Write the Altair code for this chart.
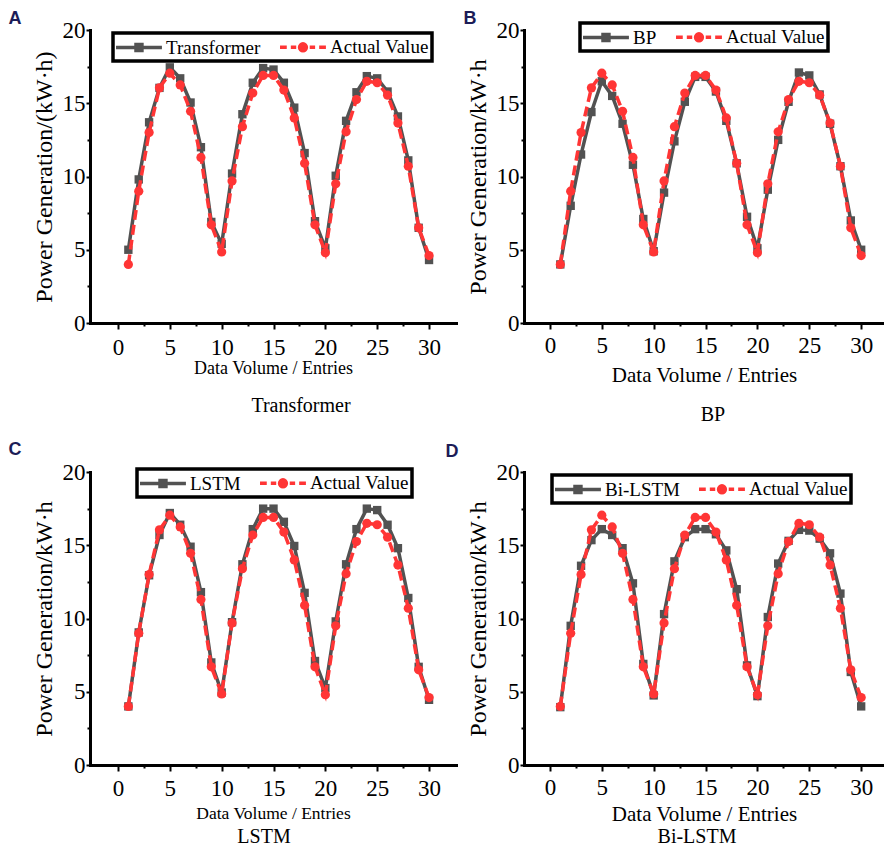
import altair as alt
import pandas as pd

# ---------------- data ----------------
entries = list(range(1, 31))

actual = [4.0, 9.0, 13.0, 16.05, 17.05, 16.25, 14.45, 11.3, 6.7, 4.85,
          9.7, 13.4, 15.7, 16.9, 16.9, 15.9, 14.0, 10.9, 6.7, 4.8,
          9.5, 13.05, 15.25, 16.5, 16.4, 15.55, 13.65, 10.7, 6.5, 4.6]

transformer = [5.0, 9.8, 13.7, 16.05, 17.45, 16.7, 15.05, 12.0, 6.9, 5.4,
               10.2, 14.25, 16.4, 17.4, 17.3, 16.4, 14.7, 11.6, 6.95, 5.1,
               10.05, 13.8, 15.75, 16.85, 16.7, 15.8, 14.1, 11.1, 6.5, 4.3]

bp = [4.0, 8.0, 11.5, 14.4, 16.5, 15.5, 13.6, 10.8, 7.1, 4.9,
      8.9, 12.4, 15.1, 16.8, 16.8, 15.8, 13.8, 10.9, 7.25, 5.1,
      9.1, 12.5, 15.1, 17.1, 16.9, 15.6, 13.6, 10.7, 7.0, 5.0]

lstm = [4.0, 9.05, 12.95, 15.7, 17.2, 16.4, 14.9, 11.8, 7.0, 4.95,
        9.75, 13.7, 16.1, 17.5, 17.5, 16.6, 14.95, 11.75, 7.1, 5.25,
        9.8, 13.7, 16.1, 17.5, 17.4, 16.4, 14.8, 11.4, 6.7, 4.45]

bilstm = [3.95, 9.5, 13.6, 15.35, 16.1, 15.7, 14.8, 12.4, 6.9, 4.75,
          10.3, 13.9, 15.55, 16.1, 16.1, 15.75, 14.65, 12.0, 6.8, 4.7,
          10.1, 13.75, 15.3, 16.05, 16.0, 15.45, 14.45, 11.7, 6.35, 4.0]

actual_label = "Actual Value"
x_title = "Data Volume / Entries"
x_major = [0, 5, 10, 15, 20, 25, 30]
x_minor = [2.5, 7.5, 12.5, 17.5, 22.5, 27.5]
y_major = [0, 5, 10, 15, 20]
y_minor = [2.5, 7.5, 12.5, 17.5]

# ---------------- style ----------------
GRAY = "#525252"
RED = "#ff3535"
NAVY = "#1c1c57"
SERIF = "Liberation Serif"
SANS = "Liberation Sans"

# legend symbols: line + marker as custom paths (9 px per path unit),
# shifted right so that the whole symbol stays inside the legend box
SQUARE_SYMBOL = "M-1.22,0H3.88M1.0,-0.33H1.66V0.33H1.0Z"
CIRCLE_SYMBOL = ("M-1.22,0H-0.47M-0.02,0H0.58M2.08,0H2.68M3.13,0H3.88"
                 "M1.71,0A0.38,0.38,0,1,1,0.95,0A0.38,0.38,0,1,1,1.71,0Z")


def panel(name, values, letter, ytitle, width, height, xdom, letter_xy,
          legend_xy, xlp, xtfs, xtp, cap_off, cap_dx):
    df_model = pd.DataFrame({"entry": entries, "power": values, "series": name})
    df_actual = pd.DataFrame({"entry": entries, "power": actual, "series": actual_label})
    df_all = pd.concat([df_model, df_actual], ignore_index=True)

    xs = alt.Scale(domain=xdom, nice=False, zero=False)
    ys = alt.Scale(domain=[0, 20], nice=False, zero=True)

    x_axis = alt.Axis(values=x_major, orient="bottom", title=x_title,
                      titleFont=SERIF, titleFontSize=xtfs, titleFontWeight="normal",
                      titleColor="black", titlePadding=xtp,
                      labelFont=SERIF, labelFontSize=23, labelColor="black",
                      labelPadding=xlp, labelFlush=False, labelOverlap=False,
                      domainColor="black", domainWidth=3, domainCap="square",
                      tickColor="black", tickWidth=2, tickSize=6, grid=False)
    y_axis = alt.Axis(values=y_major, orient="left", title=ytitle,
                      titleFont=SERIF, titleFontSize=24, titleFontWeight="normal",
                      titleColor="black", titlePadding=6,
                      labelFont=SERIF, labelFontSize=23, labelColor="black",
                      labelPadding=1, labelFlush=False, labelOverlap=False,
                      domainColor="black", domainWidth=3, domainCap="square",
                      tickColor="black", tickWidth=2, tickSize=4, grid=False)
    x_axis_minor = alt.Axis(values=x_minor, orient="bottom", title=None, labels=False,
                            domain=False, tickColor="black", tickWidth=2, tickSize=3,
                            grid=False)
    y_axis_minor = alt.Axis(values=y_minor, orient="left", title=None, labels=False,
                            domain=False, tickColor="black", tickWidth=2, tickSize=3,
                            grid=False)

    model_line = alt.Chart(df_model).mark_line(color=GRAY, strokeWidth=3.5).encode(
        x=alt.X("entry:Q", scale=xs, axis=x_axis),
        y=alt.Y("power:Q", scale=ys, axis=y_axis),
    )
    model_pts = alt.Chart(df_model).mark_point(shape="square", filled=True, color=GRAY,
                                               size=70, opacity=1).encode(
        x=alt.X("entry:Q", scale=xs, axis=None),
        y=alt.Y("power:Q", scale=ys, axis=None),
    )
    actual_line = alt.Chart(df_actual).mark_line(color=RED, strokeWidth=3.5,
                                                 strokeDash=[10, 5]).encode(
        x=alt.X("entry:Q", scale=xs, axis=None),
        y=alt.Y("power:Q", scale=ys, axis=None),
    )
    actual_pts = alt.Chart(df_actual).mark_circle(color=RED, size=85, opacity=1).encode(
        x=alt.X("entry:Q", scale=xs, axis=x_axis_minor),
        y=alt.Y("power:Q", scale=ys, axis=y_axis_minor),
    )

    leg = alt.Legend(title=None, orient="none", legendX=legend_xy[0], legendY=legend_xy[1],
                     direction="horizontal", symbolSize=324, symbolStrokeWidth=3.5,
                     symbolOpacity=1, labelFont=SERIF, labelFontSize=19,
                     labelColor="black", labelOffset=28, columnPadding=12, padding=3,
                     strokeColor="black", fillColor="white")
    dom = [name, actual_label]
    legend_layer = alt.Chart(df_all).transform_filter("false").mark_point(
        filled=True, strokeWidth=3.5, opacity=1).encode(
        x=alt.X("entry:Q", scale=xs, axis=None),
        y=alt.Y("power:Q", scale=ys, axis=None),
        color=alt.Color("series:N", scale=alt.Scale(domain=dom, range=[GRAY, RED]), legend=leg),
        stroke=alt.Stroke("series:N", scale=alt.Scale(domain=dom, range=[GRAY, RED]), legend=leg),
        shape=alt.Shape("series:N", scale=alt.Scale(domain=dom, range=[SQUARE_SYMBOL, CIRCLE_SYMBOL]),
                        legend=leg),
    )

    letter_layer = alt.Chart(pd.DataFrame({"letter": [letter]})).mark_text(
        font=SANS, fontWeight="bold", fontSize=18, color=NAVY,
        align="center", baseline="middle").encode(
        text="letter:N", x=alt.value(letter_xy[0]), y=alt.value(letter_xy[1]))

    return alt.layer(model_line, model_pts, actual_line, actual_pts, legend_layer,
                     letter_layer).resolve_axis(x="independent", y="independent").properties(
        width=width, height=height,
        title=alt.TitleParams(name, orient="bottom", frame="group", anchor="middle",
                              font=SERIF, fontSize=20, fontWeight="normal", color="black",
                              offset=cap_off, dx=cap_dx),
    )


pA = panel("Transformer", transformer, "A", "Power Generation/(kW·h)", 366, 293,
           [-2.7, 32.6], (-75, -11), (23, 3), 7, 18, 0, 19, 28)
pB = panel("BP", bp, "B", "Power Generation/kW·h", 360, 293,
           [-2.5, 32.2], (-54, -11), (56, -7), 5, 21, 7, 20, 9)
pC = panel("LSTM", lstm, "C", "Power Generation/kW·h", 366, 293,
           [-2.7, 32.6], (-75, -22), (47, -3), 6, 17.5, 4, 5, -9)
pD = panel("Bi-LSTM", bilstm, "D", "Power Generation/kW·h", 360, 293,
           [-2.5, 32.2], (-72, -20), (28, 3), 5, 21, 4, 3, -7)

chart = alt.concat(pA, pB, pC, pD, columns=2, bounds="flush",
                   spacing={"row": 149, "column": 68}).resolve_scale(
    color="independent", stroke="independent", shape="independent"
).resolve_legend(
    color="independent", stroke="independent", shape="independent"
).properties(
    padding={"left": 0, "top": 2, "right": 0, "bottom": 0},
    background="white",
).configure_view(stroke=None).configure_legend(strokeWidth=3.5)

chart.save("out.html", embed_options={"renderer": "svg", "actions": False})
